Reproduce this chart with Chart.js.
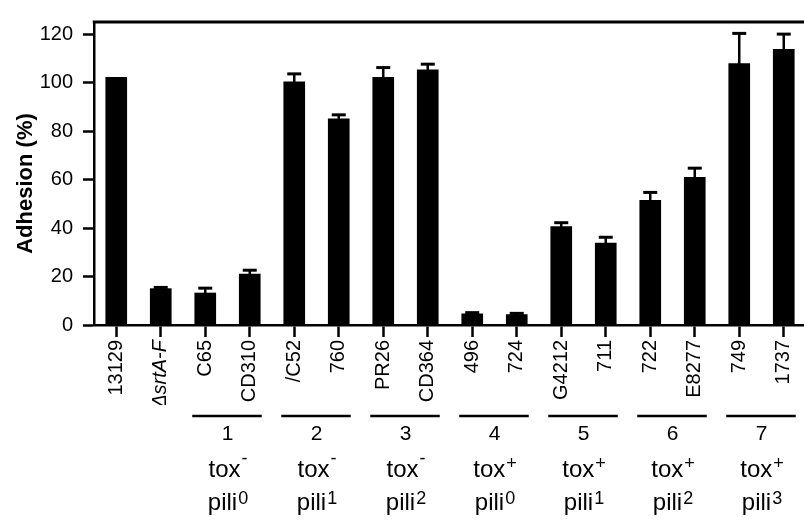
<!DOCTYPE html>
<html>
<head>
<meta charset="utf-8">
<script src="https://cdn.jsdelivr.net/npm/chart.js@4/dist/chart.umd.min.js"></script>
<style>
html,body{margin:0;padding:0;background:#fff;overflow:hidden;}
#wrap{width:804px;height:520px;overflow:hidden;position:relative;}
canvas{display:block;}
</style>
</head>
<body>
<div id="wrap"><canvas id="c" width="812" height="520"></canvas></div>
<script>
// ---- data ----
const strains = ["13129","\u0394srtA-F","C65","CD310","/C52","760","PR26","CD364","496","724","G4212","711","722","E8277","749","1737"];
const adhesion = [102.2, 15.0, 13.2, 21.0, 100.3, 85.1, 102.2, 105.3, 4.6, 4.3, 40.6, 33.8, 51.4, 60.9, 107.8, 113.7];
const adhesionErr = [0, 0.5, 2.0, 1.6, 3.3, 1.6, 4.0, 2.3, 0.5, 0.5, 1.6, 2.4, 3.3, 3.8, 12.5, 6.3];
const yTicks = [0, 20, 40, 60, 80, 100, 120];
const groupFirstIndex = [2, 4, 6, 8, 10, 12, 14];
const groupNumbers = ["1","2","3","4","5","6","7"];
const groupTox = ["-","-","-","+","+","+","+"];
const groupPili = ["0","1","2","0","1","2","3"];
const yTitle = "Adhesion (%)";

const FONT = "'Liberation Sans', Arial, Helvetica, sans-serif";

const errorBars = {
  id: 'errorBars',
  afterDatasetsDraw(chart) {
    const ctx = chart.ctx, meta = chart.getDatasetMeta(0), y = chart.scales.y;
    ctx.save();
    ctx.strokeStyle = '#000';
    meta.data.forEach((bar, i) => {
      if (!adhesionErr[i]) return;
      const top = y.getPixelForValue(adhesion[i] + adhesionErr[i]);
      const base = y.getPixelForValue(adhesion[i]);
      ctx.lineWidth = 2.5;
      ctx.beginPath();
      ctx.moveTo(bar.x, base + 1);
      ctx.lineTo(bar.x, top);
      ctx.stroke();
      ctx.lineWidth = 3;
      ctx.beginPath();
      ctx.moveTo(bar.x - 7, top);
      ctx.lineTo(bar.x + 7, top);
      ctx.stroke();
    });
    ctx.restore();
  }
};

const decorations = {
  id: 'decorations',
  afterDraw(chart) {
    const ctx = chart.ctx, a = chart.chartArea, x = chart.scales.x;
    ctx.save();
    // top frame line
    ctx.strokeStyle = '#000';
    ctx.lineWidth = 3;
    ctx.beginPath();
    ctx.moveTo(a.left - 1.25, a.top);
    ctx.lineTo(a.right + 10, a.top);
    ctx.stroke();
    // y title
    ctx.save();
    ctx.translate(26, (a.top + a.bottom) / 2 + 10);
    ctx.rotate(-Math.PI / 2);
    ctx.font = "bold 22px " + FONT;
    ctx.fillStyle = '#000';
    ctx.textAlign = 'center';
    ctx.textBaseline = 'middle';
    ctx.fillText(yTitle, 0, 0);
    ctx.restore();
    // groups
    ctx.fillStyle = '#000';
    const b = a.bottom;
    groupFirstIndex.forEach((gi, k) => {
      const x1 = x.getPixelForValue(gi), x2 = x.getPixelForValue(gi + 1);
      const cx = (x1 + x2) / 2;
      ctx.lineWidth = 2.5;
      ctx.beginPath();
      ctx.moveTo(x1 - 13, b + 91);
      ctx.lineTo(x2 + 12, b + 91);
      ctx.stroke();
      ctx.font = "21px " + FONT;
      ctx.textAlign = 'center';
      ctx.textBaseline = 'alphabetic';
      ctx.fillText(groupNumbers[k], cx, b + 115);
      const drawSup = (base, sup, baseY, supDy) => {
        ctx.font = "24px " + FONT;
        const w1 = ctx.measureText(base).width;
        ctx.font = "18px " + FONT;
        const w2 = ctx.measureText(sup).width;
        const start = cx - (w1 + w2) / 2;
        ctx.textAlign = 'left';
        ctx.font = "24px " + FONT;
        ctx.fillText(base, start, baseY);
        ctx.font = "18px " + FONT;
        ctx.fillText(sup, start + w1 + 1, baseY - supDy);
      };
      drawSup("tox", groupTox[k], b + 152, groupTox[k] === "-" ? 13 : 8);
      drawSup("pili", groupPili[k], b + 185, 6);
    });
    ctx.restore();
  }
};

new Chart(document.getElementById('c'), {
  type: 'bar',
  data: {
    labels: strains,
    datasets: [{
      data: adhesion,
      backgroundColor: '#000',
      borderWidth: 0,
      barThickness: 21
    }]
  },
  options: {
    responsive: false,
    animation: false,
    events: [],
    layout: { padding: { left: 0, top: 8, right: 6, bottom: 115 } },
    plugins: { legend: { display: false }, tooltip: { enabled: false } },
    scales: {
      x: {
        offset: true,
        grid: { display: true, drawOnChartArea: false, drawTicks: true, offset: false,
                tickLength: 12, tickWidth: 2.5, tickColor: '#000' },
        border: { display: true, width: 2.5, color: '#000' },
        ticks: {
          autoSkip: false, maxRotation: 90, minRotation: 90, padding: 3, color: '#000',
          font: (c) => ({ family: FONT, size: 20, style: c.index === 1 ? 'italic' : 'normal' })
        },
        afterFit(s) { s.height = 80; }
      },
      y: {
        min: 0, max: 125,
        afterBuildTicks(s) { s.ticks = yTicks.map(v => ({ value: v })); },
        grid: { display: true, drawOnChartArea: false, drawTicks: true,
                tickLength: 11, tickWidth: 2.5, tickColor: '#000' },
        border: { display: true, width: 2.5, color: '#000' },
        ticks: { padding: 10, color: '#000', font: { family: FONT, size: 20 } },
        afterFit(s) { s.width = 94; }
      }
    }
  },
  plugins: [errorBars, decorations]
});
</script>
</body>
</html>
